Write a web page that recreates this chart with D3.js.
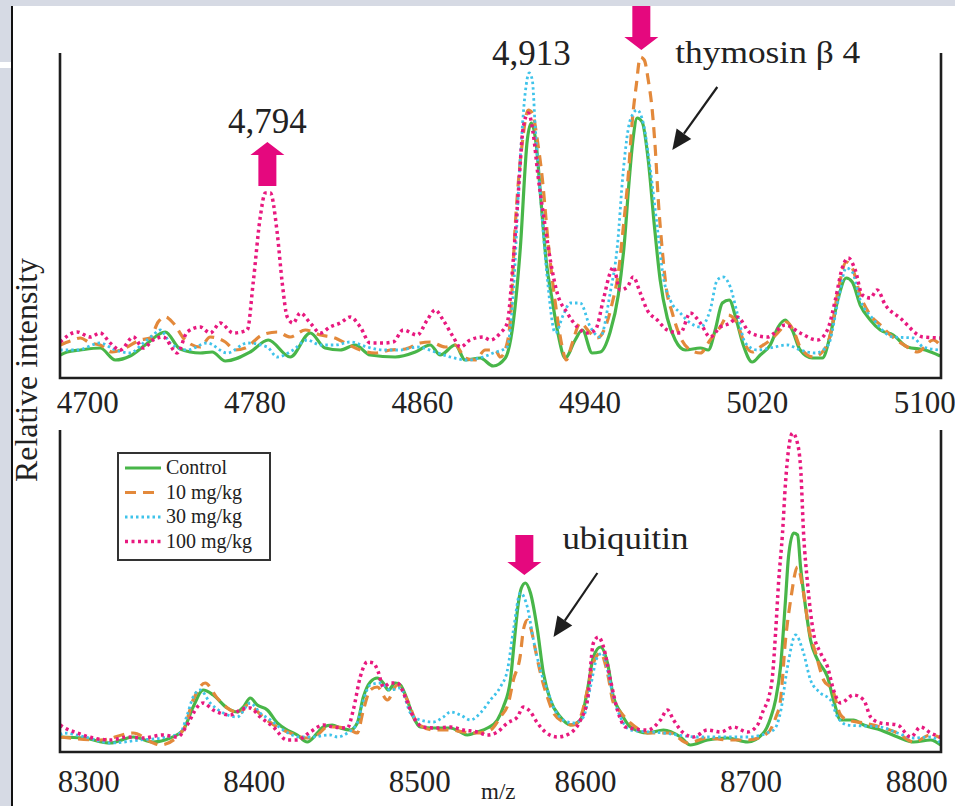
<!DOCTYPE html>
<html>
<head>
<meta charset="utf-8">
<script src="https://cdn.jsdelivr.net/npm/d3@7"></script>
<style>
  body { margin: 0; background: #fff; }
  svg { display: block; font-family: 'Liberation Serif', 'Times New Roman', serif; }
</style>
</head>
<body>
<svg id="chart" width="955" height="806"></svg>
<script>
// m/z windows and tick labels
const topDomain = [4687, 5108]
const bottomDomain = [8283, 8815]
const topTicks = [4700, 4780, 4860, 4940, 5020, 5100]
const bottomTicks = [8300, 8400, 8500, 8600, 8700, 8800]

const seriesNames = ['Control', '10 mg/kg', '30 mg/kg', '100 mg/kg']

// [m/z, relative intensity (arb. units)]
const controlTop = [[4687.1,23],[4690.4,26],[4696.7,28],[4706.2,30],[4713.4,18],[4720.5,22],[4727.7,33],[4737.3,46],[4744.4,29],[4754.0,25],[4759.7,26],[4766.0,17],[4777.9,26],[4786.5,38],[4797.0,21],[4806.6,45],[4813.7,30],[4820.9,28],[4828.1,33],[4835.2,23],[4847.2,21],[4856.8,26],[4863.9,33],[4868.7,23],[4875.9,33],[4880.6,18],[4887.8,20],[4894.0,12],[4899.8,20],[4903.1,48],[4906.9,128],[4910.3,238],[4912.2,255],[4914.6,233],[4917.0,173],[4919.4,116],[4922.2,78],[4925.1,43],[4928.4,20],[4933.2,38],[4936.6,48],[4941.3,25],[4945.2,26],[4949.9,46],[4953.8,83],[4956.6,133],[4959.0,198],[4960.9,240],[4962.8,260],[4965.2,256],[4968.1,218],[4971.0,153],[4973.8,98],[4977.2,60],[4981.0,38],[4985.8,28],[4993.0,30],[4996.8,28],[5000.1,48],[5003.5,75],[5006.8,78],[5010.2,58],[5013.5,33],[5017.8,16],[5021.6,23],[5026.4,33],[5030.2,51],[5033.6,58],[5036.9,48],[5040.7,28],[5046.5,20],[5051.3,20],[5055.1,43],[5058.9,80],[5062.7,100],[5065.6,96],[5069.4,73],[5074.2,58],[5079.0,48],[5085.2,43],[5091.9,31],[5100.5,28],[5107.6,22]]

const dose10Top = [[4687.1,33],[4691.9,37],[4696.7,40],[4701.4,35],[4706.2,33],[4712.0,26],[4718.2,30],[4725.3,38],[4730.1,40],[4733.9,56],[4737.3,61],[4741.1,55],[4746.8,38],[4754.0,31],[4758.8,41],[4766.0,36],[4770.7,28],[4775.5,30],[4783.6,43],[4790.8,46],[4797.0,41],[4804.2,48],[4811.4,43],[4818.5,40],[4823.3,35],[4830.5,28],[4837.6,25],[4844.8,28],[4852.0,29],[4859.1,35],[4863.9,36],[4871.1,31],[4875.9,33],[4880.6,20],[4885.4,18],[4890.2,28],[4895.0,28],[4897.4,21],[4900.7,35],[4902.2,58],[4904.5,151],[4907.9,235],[4910.8,268],[4912.7,265],[4915.1,238],[4917.4,201],[4920.3,135],[4923.7,75],[4927.0,31],[4928.9,18],[4931.8,35],[4935.6,55],[4940.4,45],[4943.7,40],[4947.6,51],[4950.9,75],[4953.8,105],[4956.2,151],[4958.5,201],[4960.5,258],[4962.4,293],[4964.3,321],[4966.2,318],[4968.1,298],[4970.0,268],[4971.5,228],[4972.9,178],[4974.8,128],[4976.7,90],[4979.6,65],[4983.4,41],[4988.2,28],[4993.0,25],[4997.7,38],[5002.5,51],[5006.3,63],[5010.2,56],[5014.5,33],[5017.8,26],[5021.6,31],[5026.4,38],[5031.2,48],[5034.1,56],[5037.4,48],[5040.7,31],[5047.0,21],[5051.3,26],[5055.1,43],[5058.9,88],[5062.7,116],[5065.6,110],[5069.4,83],[5074.2,63],[5079.0,53],[5083.8,43],[5091.9,31],[5096.7,26],[5104.3,38],[5107.6,33]]

const dose30Top = [[4687.1,28],[4695.2,28],[4706.2,35],[4713.4,28],[4720.5,25],[4726.8,35],[4731.5,43],[4734.9,48],[4739.7,35],[4747.8,28],[4757.3,35],[4766.9,25],[4776.5,35],[4786.0,31],[4790.8,21],[4798.4,28],[4805.1,38],[4811.4,33],[4818.5,33],[4825.7,36],[4833.8,31],[4841.5,28],[4849.6,28],[4857.7,31],[4866.3,26],[4873.5,21],[4881.6,18],[4889.2,21],[4894.0,25],[4900.7,31],[4903.6,85],[4906.9,218],[4909.3,285],[4911.2,305],[4912.7,298],[4914.1,251],[4916.5,185],[4919.8,101],[4923.7,45],[4927.5,63],[4930.8,75],[4935.6,75],[4940.4,51],[4945.2,41],[4949.9,85],[4953.3,131],[4956.2,208],[4959.5,258],[4962.8,268],[4965.7,255],[4969.1,208],[4972.4,151],[4975.3,101],[4978.6,78],[4983.4,65],[4988.2,55],[4993.0,51],[4997.7,68],[5001.1,98],[5003.9,101],[5007.3,91],[5010.6,65],[5014.5,35],[5020.2,28],[5026.4,30],[5034.5,33],[5040.7,28],[5047.9,25],[5054.1,33],[5058.9,78],[5062.7,110],[5065.6,106],[5069.4,78],[5075.2,60],[5085.2,41],[5094.8,40],[5099.5,31],[5107.6,28]]

const dose100Top = [[4687.1,36],[4695.2,46],[4701.4,41],[4706.2,45],[4711.0,35],[4715.8,28],[4722.0,41],[4726.8,30],[4731.5,38],[4736.3,41],[4743.0,25],[4747.8,46],[4754.0,51],[4758.8,45],[4763.6,55],[4769.8,45],[4776.5,48],[4779.3,95],[4782.7,161],[4785.1,185],[4787.5,185],[4790.8,145],[4793.2,95],[4795.6,61],[4798.4,55],[4801.8,65],[4806.6,55],[4811.4,45],[4816.1,51],[4820.9,55],[4825.7,61],[4830.5,51],[4835.2,35],[4841.5,35],[4846.2,36],[4851.0,48],[4857.7,43],[4862.5,58],[4866.3,68],[4870.1,58],[4874.9,41],[4878.3,31],[4883.0,38],[4889.2,41],[4892.6,38],[4897.4,45],[4900.7,55],[4903.6,118],[4906.0,185],[4908.4,251],[4910.8,265],[4913.1,245],[4915.5,201],[4918.9,151],[4921.3,118],[4924.6,85],[4929.4,65],[4934.2,51],[4939.0,45],[4942.8,48],[4946.6,78],[4949.9,105],[4951.4,111],[4954.7,88],[4958.1,91],[4960.9,101],[4964.3,85],[4967.6,68],[4972.4,58],[4977.2,48],[4983.4,45],[4988.2,65],[4993.0,55],[4997.7,41],[5002.5,51],[5007.3,55],[5010.6,61],[5016.9,45],[5025.0,41],[5033.6,53],[5040.7,45],[5048.9,38],[5053.7,48],[5057.5,78],[5060.8,110],[5063.7,120],[5067.0,108],[5070.4,83],[5074.2,80],[5077.5,88],[5081.4,73],[5088.5,60],[5099.5,41],[5107.6,40]]

const controlBottom = [[8283.1,15],[8297.0,14],[8313.3,9],[8327.2,15],[8339.3,10],[8349.5,14],[8357.4,22],[8363.4,45],[8369.5,62],[8375.5,57],[8384.0,44],[8390.0,40],[8393.7,45],[8397.9,54],[8402.1,47],[8408.2,42],[8414.2,29],[8420.2,22],[8426.3,17],[8432.3,10],[8438.4,19],[8442.0,25],[8447.4,27],[8452.3,24],[8458.3,22],[8462.5,29],[8466.2,55],[8470.4,70],[8474.6,74],[8478.2,69],[8481.3,62],[8485.5,69],[8488.5,67],[8492.7,52],[8496.4,35],[8500.6,25],[8508.4,24],[8518.7,24],[8524.8,20],[8529.0,17],[8535.0,20],[8541.1,24],[8547.1,32],[8550.7,45],[8555.0,72],[8557.4,112],[8559.8,149],[8561.6,164],[8564.0,169],[8567.1,159],[8571.3,122],[8574.9,79],[8579.1,52],[8585.2,35],[8591.2,27],[8597.3,32],[8601.5,62],[8605.1,95],[8609.4,105],[8613.6,89],[8617.2,55],[8621.4,40],[8627.5,25],[8637.8,19],[8647.4,22],[8657.7,15],[8663.7,7],[8674.0,12],[8686.1,14],[8698.2,10],[8707.8,19],[8712.1,34],[8715.1,52],[8718.1,85],[8721.1,152],[8722.9,195],[8726.0,219],[8728.4,217],[8730.2,185],[8733.2,145],[8736.2,112],[8740.5,92],[8746.5,75],[8750.1,52],[8754.4,32],[8762.2,32],[8768.3,27],[8778.5,22],[8788.8,15],[8798.5,10],[8808.7,12],[8814.8,7]]

const dose10Bottom = [[8283.1,15],[8307.3,12],[8327.2,19],[8339.3,9],[8343.5,7],[8357.4,22],[8363.4,52],[8370.7,69],[8377.9,54],[8385.8,42],[8391.8,39],[8396.1,47],[8399.7,44],[8405.7,35],[8414.2,25],[8422.1,19],[8432.3,14],[8438.4,17],[8444.4,25],[8450.5,25],[8458.3,22],[8462.5,19],[8466.2,42],[8470.4,62],[8474.6,65],[8480.7,52],[8486.7,67],[8492.7,52],[8498.8,29],[8508.4,22],[8518.7,22],[8526.6,20],[8535.0,19],[8542.9,22],[8548.9,35],[8553.8,49],[8556.8,72],[8561.0,97],[8562.8,122],[8565.2,132],[8567.1,125],[8570.1,102],[8573.1,79],[8577.3,55],[8581.0,39],[8587.0,30],[8593.0,27],[8597.3,35],[8601.5,62],[8605.1,89],[8609.4,99],[8613.6,79],[8617.2,49],[8621.4,40],[8627.5,29],[8639.6,19],[8651.6,19],[8661.9,9],[8674.0,14],[8686.1,12],[8698.2,12],[8710.3,19],[8715.1,34],[8718.1,52],[8721.1,112],[8724.2,152],[8728.4,185],[8732.0,159],[8735.0,125],[8739.3,99],[8744.1,72],[8749.5,62],[8754.4,37],[8758.6,32],[8768.3,29],[8778.5,25],[8788.8,19],[8798.5,10],[8808.7,17],[8814.8,14]]

const dose30Bottom = [[8283.1,17],[8284.9,19],[8298.2,15],[8313.3,9],[8331.4,12],[8347.7,15],[8355.6,19],[8359.8,37],[8363.4,55],[8367.7,62],[8373.7,49],[8381.6,39],[8390.0,35],[8397.9,49],[8403.9,39],[8410.0,32],[8417.8,22],[8428.1,15],[8434.1,15],[8446.2,17],[8450.5,15],[8456.5,19],[8462.5,29],[8466.2,52],[8470.4,67],[8476.4,69],[8482.5,62],[8488.5,64],[8494.6,39],[8500.6,32],[8508.4,30],[8514.5,35],[8518.7,40],[8524.8,37],[8530.8,32],[8536.8,39],[8542.9,52],[8548.9,65],[8553.2,82],[8556.8,122],[8561.0,159],[8565.2,145],[8568.9,112],[8573.1,82],[8577.3,62],[8581.0,45],[8587.0,32],[8593.0,29],[8599.1,35],[8603.3,65],[8607.5,95],[8610.6,99],[8613.6,82],[8617.2,55],[8621.4,35],[8627.5,22],[8647.4,19],[8668.0,15],[8677.6,15],[8698.2,15],[8713.9,22],[8718.1,40],[8722.3,85],[8727.2,117],[8732.0,99],[8736.2,72],[8742.3,59],[8748.3,52],[8752.5,35],[8758.6,27],[8778.5,25],[8788.8,19],[8798.5,14],[8808.7,15],[8814.8,9]]

const dose100Bottom = [[8283.1,27],[8284.9,25],[8293.4,19],[8303.0,14],[8313.3,12],[8323.6,15],[8333.2,14],[8345.3,17],[8353.8,15],[8359.8,27],[8365.9,45],[8369.5,49],[8375.5,42],[8385.8,37],[8391.8,42],[8397.9,44],[8403.9,35],[8411.8,25],[8420.2,12],[8426.3,12],[8434.1,20],[8442.0,27],[8448.0,25],[8456.5,24],[8460.1,42],[8464.3,75],[8468.6,90],[8472.2,89],[8475.2,80],[8478.2,65],[8482.5,69],[8486.7,69],[8491.5,55],[8496.4,35],[8502.4,25],[8510.9,24],[8518.7,25],[8526.6,22],[8535.0,20],[8541.1,17],[8547.1,20],[8553.2,29],[8559.2,35],[8562.8,45],[8567.1,40],[8571.3,29],[8576.1,20],[8583.4,15],[8591.2,19],[8597.3,32],[8601.5,52],[8605.1,109],[8608.1,115],[8611.2,105],[8615.4,72],[8619.6,42],[8624.5,25],[8637.8,22],[8645.6,32],[8649.8,42],[8653.5,32],[8659.5,19],[8665.5,15],[8674.0,22],[8681.9,20],[8689.7,25],[8698.2,20],[8704.2,27],[8707.8,42],[8710.9,54],[8713.3,77],[8715.1,119],[8716.9,169],[8719.3,219],[8721.1,269],[8722.9,302],[8725.4,319],[8727.8,312],[8730.2,285],[8732.0,219],[8734.4,169],[8738.0,119],[8742.3,99],[8746.5,85],[8750.1,62],[8754.4,49],[8762.2,57],[8768.3,52],[8772.5,35],[8778.5,29],[8788.8,27],[8796.7,15],[8802.7,25],[8808.7,19],[8814.8,15]]

// annotations: [label, m/z, intensity]
const topLabels = [['4,794', 4786.1, 245], ['4,913', 4912.2, 313]]
const topNote = ['thymosin \u03b2 4', 4981.0, 315]
const bottomNote = ['ubiquitin', 8586.4, 203]
// pink markers: [m/z, tip intensity, tail intensity]
const topMarkers = [[4786.1, 236, 192], [4964.8, 328, 372]]
const bottomMarkers = [[8563.4, 177, 217]]
// black pointers: [from m/z, from intensity, to m/z, to intensity]
const topPointer = [5001.1, 291, 4979.6, 228]
const bottomPointer = [8607.5, 179, 8581.0, 115]

const styles = {
  'Control': {color: '#48b649', dash: null, width: 3.2},
  '10 mg/kg': {color: '#e3893b', dash: '11,7', width: 3.2},
  '30 mg/kg': {color: '#3fc3ea', dash: '2.5,3', width: 2.8},
  '100 mg/kg': {color: '#e8197f', dash: '3,3.5', width: 3.5}
}

const serif = "'Liberation Serif', 'Times New Roman', serif"
const svg = d3.select('#chart')
const ink = '#1e1e1e'
const magenta = '#e5087e'

function drawPanel (opts) {
  const x = d3.scaleLinear().domain(opts.domain).range([60, 941])
  const y = d3.scaleLinear().domain([0, opts.yMax]).range([opts.bottom, opts.top])
  const g = svg.append('g')

  const line = d3.line()
    .x(d => x(d[0]))
    .y(d => y(d[1]))
    .curve(d3.curveMonotoneX)

  opts.series.forEach((data, i) => {
    const s = styles[seriesNames[i]]
    g.append('path')
      .datum(data)
      .attr('fill', 'none')
      .attr('stroke', s.color)
      .attr('stroke-width', s.width)
      .attr('stroke-dasharray', s.dash)
      .attr('stroke-linejoin', 'round')
      .attr('d', line)
  })

  // open box: left, bottom, right
  g.append('path')
    .attr('fill', 'none')
    .attr('stroke', ink)
    .attr('stroke-width', 2.6)
    .attr('d', `M60,${opts.top}V${opts.bottom}H941V${opts.top}`)

  const axis = g.append('g')
    .attr('transform', `translate(0,${opts.bottom})`)
    .call(d3.axisBottom(x)
      .tickValues(opts.ticks)
      .tickSize(0)
      .tickPadding(opts.pad)
      .tickFormat(d3.format('d')))
  axis.select('.domain').remove()
  axis.attr('font-family', serif).attr('font-size', 31)
  axis.selectAll('text').attr('fill', '#222')

  return {x, y, g}
}

function pinkArrow (g, px, tip, tail) {
  const s = tail > tip ? 1 : -1
  const pts = [
    [px, tip], [px + 17, tip + 13 * s], [px + 9, tip + 13 * s], [px + 9, tail],
    [px - 9, tail], [px - 9, tip + 13 * s], [px - 17, tip + 13 * s]
  ]
  g.append('polygon')
    .attr('points', pts.map(p => p.join(',')).join(' '))
    .attr('fill', magenta)
}

function blackArrow (g, x1, y1, x2, y2) {
  const a = Math.atan2(y2 - y1, x2 - x1)
  const len = 20
  const w = 9
  const bx = x2 - len * Math.cos(a)
  const by = y2 - len * Math.sin(a)
  g.append('line')
    .attr('x1', x1).attr('y1', y1).attr('x2', bx).attr('y2', by)
    .attr('stroke', ink).attr('stroke-width', 2.2)
  g.append('polygon')
    .attr('points', [
      [x2, y2],
      [bx + w * Math.sin(a), by - w * Math.cos(a)],
      [bx - w * Math.sin(a), by + w * Math.cos(a)]
    ].map(p => p.join(',')).join(' '))
    .attr('fill', ink)
}

const topPanel = drawPanel({
  domain: topDomain, ticks: topTicks, top: 53, bottom: 378, yMax: 325, pad: 13,
  series: [controlTop, dose10Top, dose30Top, dose100Top]
})

const bottomPanel = drawPanel({
  domain: bottomDomain, ticks: bottomTicks, top: 430, bottom: 752, yMax: 322, pad: 18,
  series: [controlBottom, dose10Bottom, dose30Bottom, dose100Bottom]
})

// top panel annotations
for (const [text, mz, v] of topLabels) {
  topPanel.g.append('text')
    .attr('x', topPanel.x(mz)).attr('y', topPanel.y(v))
    .attr('text-anchor', 'middle')
    .attr('font-size', 35).attr('fill', '#222')
    .text(text)
}
topPanel.g.append('text')
  .attr('x', topPanel.x(topNote[1])).attr('y', topPanel.y(topNote[2]))
  .attr('font-size', 31).attr('fill', '#222')
  .attr('textLength', 185).attr('lengthAdjust', 'spacingAndGlyphs')
  .text(topNote[0])
for (const [mz, tip, tail] of topMarkers) {
  pinkArrow(topPanel.g, topPanel.x(mz), topPanel.y(tip), topPanel.y(tail))
}
blackArrow(topPanel.g,
  topPanel.x(topPointer[0]), topPanel.y(topPointer[1]),
  topPanel.x(topPointer[2]), topPanel.y(topPointer[3]))

// bottom panel annotations
bottomPanel.g.append('text')
  .attr('x', bottomPanel.x(bottomNote[1])).attr('y', bottomPanel.y(bottomNote[2]))
  .attr('font-size', 32).attr('fill', '#222')
  .attr('textLength', 126).attr('lengthAdjust', 'spacingAndGlyphs')
  .text(bottomNote[0])
for (const [mz, tip, tail] of bottomMarkers) {
  pinkArrow(bottomPanel.g, bottomPanel.x(mz), bottomPanel.y(tip), bottomPanel.y(tail))
}
blackArrow(bottomPanel.g,
  bottomPanel.x(bottomPointer[0]), bottomPanel.y(bottomPointer[1]),
  bottomPanel.x(bottomPointer[2]), bottomPanel.y(bottomPointer[3]))

// legend
const legend = svg.append('g')
legend.append('rect')
  .attr('x', 118).attr('y', 453).attr('width', 152).attr('height', 107)
  .attr('fill', '#fff').attr('stroke', '#333').attr('stroke-width', 2)
seriesNames.forEach((name, i) => {
  const s = styles[name]
  const ly = 468 + i * 24.5
  legend.append('line')
    .attr('x1', 125).attr('x2', 161).attr('y1', ly).attr('y2', ly)
    .attr('stroke', s.color).attr('stroke-width', s.width)
    .attr('stroke-dasharray', s.dash)
  legend.append('text')
    .attr('x', 166).attr('y', ly + 6)
    .attr('font-size', 20).attr('fill', '#222')
    .text(name)
})

// axis titles
svg.append('text')
  .attr('transform', 'translate(37,370) rotate(-90)')
  .attr('text-anchor', 'middle')
  .attr('font-size', 31).attr('fill', '#222')
  .attr('textLength', 224).attr('lengthAdjust', 'spacingAndGlyphs')
  .text('Relative intensity')
svg.append('text')
  .attr('x', 481).attr('y', 799)
  .attr('font-size', 23).attr('fill', '#222')
  .text('m/z')

// window frame of the original screenshot
const frame = svg.append('g')
frame.append('rect').attr('x', 0).attr('y', 0).attr('width', 955).attr('height', 6).attr('fill', '#d6dae4')
frame.append('rect').attr('x', 0).attr('y', 0).attr('width', 12).attr('height', 806).attr('fill', '#d6dae4')
frame.append('rect').attr('x', 0).attr('y', 62).attr('width', 11).attr('height', 6).attr('fill', '#fff')
frame.append('line')
  .attr('x1', 12).attr('x2', 12).attr('y1', 6).attr('y2', 806)
  .attr('stroke', '#111').attr('stroke-width', 2)
</script>
</body>
</html>
